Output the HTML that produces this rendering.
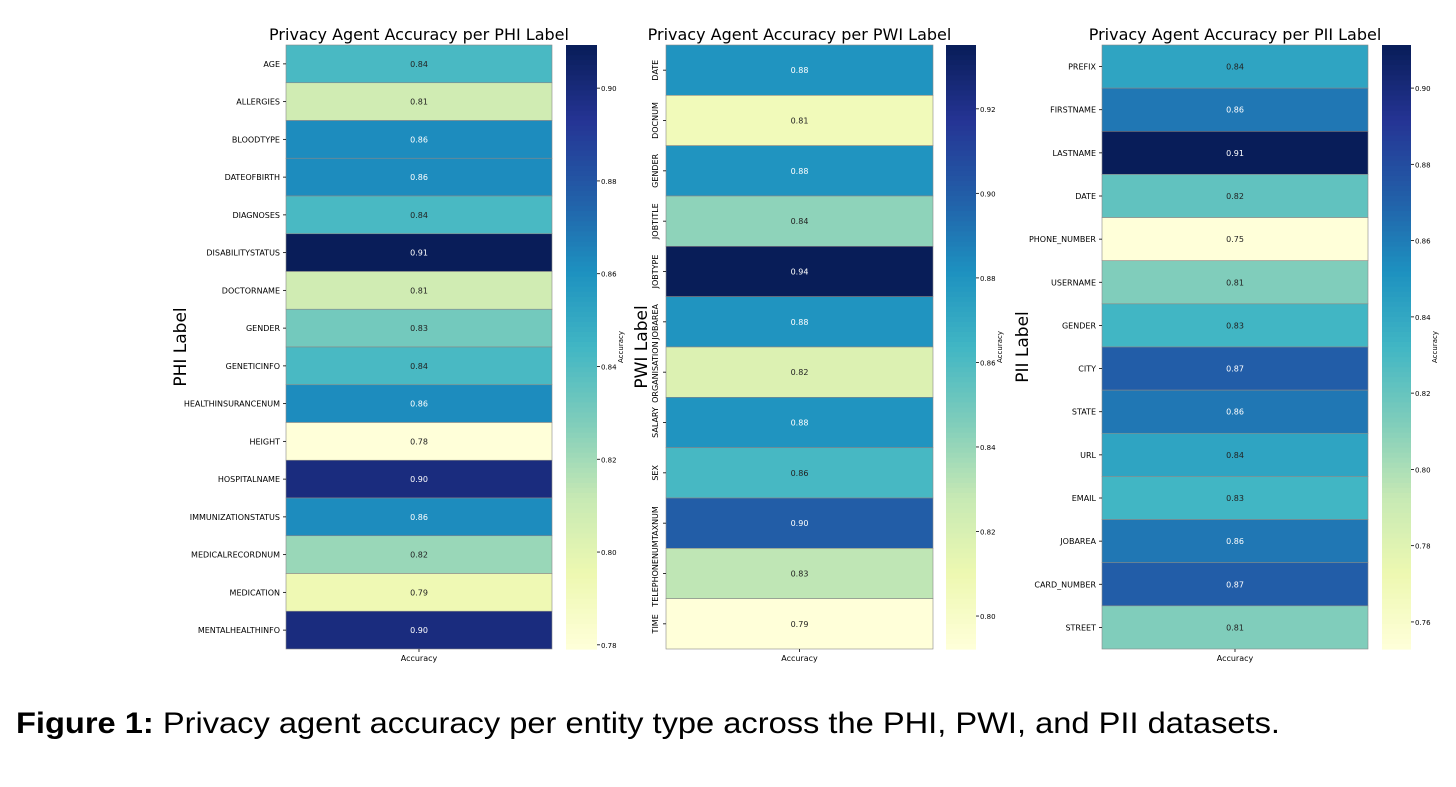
<!DOCTYPE html>
<html><head><meta charset="utf-8">
<style>
html,body{margin:0;padding:0;background:#fff;width:1456px;height:787px;overflow:hidden}
svg{display:block;font-family:"DejaVu Sans","Liberation Sans",sans-serif}
</style></head><body>
<svg id="fig" width="1456" height="787">
<text x="16" y="733" font-family="Liberation Sans, sans-serif" font-size="30" textLength="1264" lengthAdjust="spacingAndGlyphs"><tspan font-weight="bold">Figure 1:</tspan> Privacy agent accuracy per entity type across the PHI, PWI, and PII datasets.</text>
</svg>
<script>
const phiLabels=["AGE","ALLERGIES","BLOODTYPE","DATEOFBIRTH","DIAGNOSES","DISABILITYSTATUS","DOCTORNAME","GENDER","GENETICINFO","HEALTHINSURANCENUM","HEIGHT","HOSPITALNAME","IMMUNIZATIONSTATUS","MEDICALRECORDNUM","MEDICATION","MENTALHEALTHINFO"];
const phiValues=[0.842,0.808,0.862,0.862,0.842,0.909,0.808,0.831,0.842,0.862,0.779,0.899,0.862,0.822,0.794,0.899];
const phiTicks=[0.78,0.80,0.82,0.84,0.86,0.88,0.90];
const pwiLabels=["DATE","DOCNUM","GENDER","JOBTITLE","JOBTYPE","JOBAREA","ORGANISATION","SALARY","SEX","TAXNUM","TELEPHONENUM","TIME"];
const pwiValues=[0.880,0.806,0.880,0.842,0.935,0.880,0.818,0.880,0.862,0.900,0.830,0.792];
const pwiTicks=[0.80,0.82,0.84,0.86,0.88,0.90,0.92];
const piiLabels=["PREFIX","FIRSTNAME","LASTNAME","DATE","PHONE_NUMBER","USERNAME","GENDER","CITY","STATE","URL","EMAIL","JOBAREA","CARD_NUMBER","STREET"];
const piiValues=[0.842,0.862,0.911,0.822,0.753,0.812,0.832,0.872,0.862,0.842,0.832,0.862,0.872,0.812];
const piiTicks=[0.76,0.78,0.80,0.82,0.84,0.86,0.88,0.90];

const stops=["#ffffd9","#edf8b1","#c7e9b4","#7fcdbb","#41b6c4","#1d91c0","#225ea8","#253494","#081d58"];
function hx(c){return [1,3,5].map(i=>parseInt(c.substr(i,2),16));}
function cmap(t){t=Math.max(0,Math.min(1,t));const p=t*8,i=Math.min(7,Math.floor(p)),f=p-i;const a=hx(stops[i]),b=hx(stops[i+1]);const r=a.map((v,k)=>Math.round(v+(b[k]-v)*f));return {c:`rgb(${r})`,l:(0.299*r[0]+0.587*r[1]+0.114*r[2])/255};}
const NS="http://www.w3.org/2000/svg",svg=document.getElementById('fig');
function el(tag,at,txt){const e=document.createElementNS(NS,tag);for(const k in at)e.setAttribute(k,at[k]);if(txt!==undefined)e.textContent=txt;svg.appendChild(e);return e;}

function panel(o){
  const {labels,values,ticks,x0,x1,y0,y1,cb0,cb1,vmin,vmax,title,ylab,rot,key}=o;
  const n=labels.length,h=(y1-y0)/n;
  const sy=v=>y1-(v-vmin)/(vmax-vmin)*(y1-y0);
  let t=el('text',{x:(x0+x1)/2,y:y0-5,'text-anchor':'middle','font-size':16},title);
  
  values.forEach((v,i)=>{
    const m=cmap((v-vmin)/(vmax-vmin));
    const r=el('rect',{x:x0,y:y0+i*h,width:x1-x0,height:h,fill:m.c,stroke:'#888','stroke-width':0.6});
    
    
    const a=el('text',{x:(x0+x1)/2,y:y0+i*h+h/2+3,'text-anchor':'middle','font-size':8,fill:m.l<0.5?'#fff':'#222'},v.toFixed(2));
    
    
    const cy=y0+i*h+h/2;
    el('line',{x1:x0-3,x2:x0,y1:cy,y2:cy,stroke:'#000','stroke-width':0.8});
    let l;
    if(rot){l=el('text',{x:x0-8,y:cy,'text-anchor':'middle','font-size':8,transform:`rotate(-90 ${x0-8} ${cy})`},labels[i]);}
    else l=el('text',{x:x0-6,y:cy+3,'text-anchor':'end','font-size':8},labels[i]);
    
    
  });
  let ax=el('text',{x:(x0+x1)/2,y:y1+12,'text-anchor':'middle','font-size':8},'Accuracy');
  
  el('line',{x1:(x0+x1)/2,x2:(x0+x1)/2,y1:y1,y2:y1+3,stroke:'#000','stroke-width':0.8});
  const yx=o.ylx,ym=(y0+y1)/2;
  let yt=el('text',{x:yx,y:ym,'text-anchor':'middle','font-size':17,transform:`rotate(-90 ${yx} ${ym})`},ylab);
  
  const N=120;
  for(let k=0;k<N;k++){const s=el('rect',{x:cb0,y:y0+(y1-y0)*k/N,width:cb1-cb0,height:(y1-y0)/N+0.6,fill:cmap(1-(k+0.5)/N).c});
    }
  ticks.forEach(tv=>{const y=sy(tv);el('line',{x1:cb1,x2:cb1+3,y1:y,y2:y,stroke:'#000','stroke-width':0.8});
    const tl=el('text',{x:cb1+4,y:y+3,'font-size':7},tv.toFixed(2));
    });
  const cx=cb1+26;
  let cl=el('text',{x:cx,y:ym,'text-anchor':'middle','font-size':7,transform:`rotate(-90 ${cx} ${ym})`},'Accuracy');
  
}
panel({key:'phi',labels:phiLabels,values:phiValues,ticks:phiTicks,x0:286,x1:552,y0:45,y1:649,cb0:566,cb1:597,vmin:0.7791,vmax:0.9093,title:'Privacy Agent Accuracy per PHI Label',ylab:'PHI Label',ylx:186,rot:false});
panel({key:'pwi',labels:pwiLabels,values:pwiValues,ticks:pwiTicks,x0:666,x1:933,y0:45,y1:649,cb0:946,cb1:976,vmin:0.7922,vmax:0.9351,title:'Privacy Agent Accuracy per PWI Label',ylab:'PWI Label',ylx:647,rot:true});
panel({key:'pii',labels:piiLabels,values:piiValues,ticks:piiTicks,x0:1102,x1:1368,y0:45,y1:649,cb0:1382,cb1:1411,vmin:0.7529,vmax:0.9113,title:'Privacy Agent Accuracy per PII Label',ylab:'PII Label',ylx:1028,rot:false});
</script>
</body></html>
